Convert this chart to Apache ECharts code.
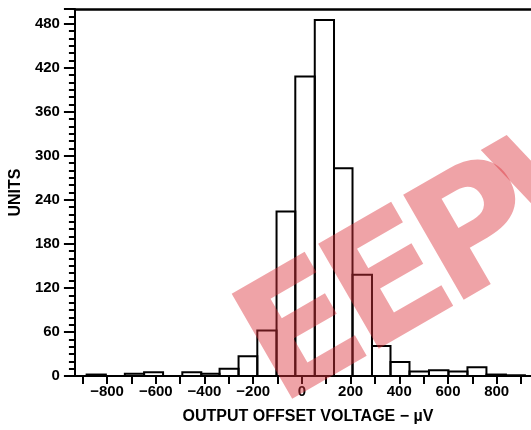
<!DOCTYPE html>
<html>
<head>
<meta charset="utf-8">
<script src="https://cdn.jsdelivr.net/npm/echarts@6/dist/echarts.min.js"></script>
<style>
html,body{margin:0;padding:0;background:#fff;}
#chart{width:531px;height:430px;}
</style>
</head>
<body>
<div id="chart"></div>
<script>
// Histogram bin edges (µV) and counts (units)
const binEdges = [-884, -805, -727, -648, -570, -491, -413, -338, -260, -183, -104, -27, 53, 132, 208, 288, 364, 442, 522, 602, 680, 758, 838, 916];
const counts   = [2, 0, 3, 5, 0, 5, 3, 10, 27, 62, 224, 408, 485, 283, 138, 41, 19, 6, 8, 6, 12, 2, 1];

// Axis ticks / labels
const xLabelValues = [-800, -600, -400, -200, 0, 200, 400, 600, 800];
const xTickValues = [-900, -800, -700, -600, -500, -400, -300, -200, -100, 0, 100, 200, 300, 400, 500, 600, 700, 800, 900];
const yLabelValues = [0, 60, 120, 180, 240, 300, 360, 420, 480];
const yMajorTickValues = [0, 60, 120, 180, 240, 300, 360, 420, 480, 500];
const yMinorTickValues = [];
for (let v = 0; v <= 500; v += 10) yMinorTickValues.push(v);

const xTitle = 'OUTPUT OFFSET VOLTAGE − µV';
const yTitle = 'UNITS';
const watermarkLetters = ['E', 'E', 'P', 'W'];

const histData = counts.map((c, i) => [binEdges[i], binEdges[i + 1], c]);

const FONT = '"Liberation Sans", Arial, Helvetica, sans-serif';
const fmt = v => (v < 0 ? '\u2212' + (-v) : String(v));

function renderItem(params, api) {
  const x0 = api.value(0), x1 = api.value(1), c = api.value(2);
  if (!c) return null;
  const p0 = api.coord([x0, c]);
  const p1 = api.coord([x1, 0]);
  return {
    type: 'rect',
    shape: { x: p0[0], y: p0[1], width: p1[0] - p0[0], height: p1[1] - p0[1] },
    style: { fill: 'transparent', stroke: '#000', lineWidth: 2 }
  };
}

const letterX = [-14, 86, 184, 284];
const WM_FONT = 'bold 166px "DejaVu Sans", "Liberation Sans", sans-serif';

const chart = echarts.init(document.getElementById('chart'), null, { renderer: 'canvas' });
chart.setOption({
  animation: false,
  backgroundColor: '#fff',
  grid: { left: 73, right: 0, top: 9, bottom: 53, containLabel: false },
  xAxis: [{
    type: 'value', min: -932, max: 941, position: 'bottom',
    axisLine: { show: true, onZero: false, lineStyle: { color: '#000', width: 2 } },
    axisTick: { show: true, customValues: xTickValues, length: 8, lineStyle: { color: '#000', width: 2 } },
    axisLabel: { customValues: xLabelValues, formatter: fmt, margin: 8, color: '#000', fontWeight: 'bold', fontSize: 15, fontFamily: FONT },
    splitLine: { show: false },
    name: xTitle, nameLocation: 'middle', nameGap: 33,
    nameTextStyle: { color: '#000', fontWeight: 'bold', fontSize: 16, fontFamily: FONT, padding: [0, 0, 0, 10] }
  }, {
    type: 'value', min: -932, max: 941, position: 'top',
    axisLine: { show: true, onZero: false, lineStyle: { color: '#000', width: 2.5 } },
    axisTick: { show: false }, axisLabel: { show: false }, splitLine: { show: false }
  }],
  yAxis: [{
    type: 'value', min: 0, max: 500, position: 'left',
    axisLine: { show: true, onZero: false, lineStyle: { color: '#000', width: 2 } },
    axisTick: { show: true, customValues: yMajorTickValues, length: 11, lineStyle: { color: '#000', width: 2 } },
    axisLabel: { customValues: yLabelValues, margin: 15, color: '#000', fontWeight: 'bold', fontSize: 15, fontFamily: FONT },
    splitLine: { show: false },
    name: yTitle, nameLocation: 'middle', nameGap: 48,
    nameTextStyle: { color: '#000', fontWeight: 'bold', fontSize: 16, fontFamily: FONT }
  }, {
    type: 'value', min: 0, max: 500, position: 'left', offset: 0,
    axisLine: { show: false, onZero: false },
    axisTick: { show: true, customValues: yMinorTickValues, length: 6, lineStyle: { color: '#000', width: 2 } },
    axisLabel: { show: false }, splitLine: { show: false }
  }],
  series: [{
    type: 'custom',
    renderItem: renderItem,
    xAxisIndex: 0, yAxisIndex: 0,
    encode: { x: [0, 1], y: 2 },
    data: histData,
    clip: true
  }],
  graphic: [{
    type: 'group', x: 239, y: 309, rotation: Math.PI / 6, z: 100, silent: true,
    children: watermarkLetters.map((ch, i) => ({
      type: 'text', x: letterX[i], y: 61, z: 100,
      style: { text: ch, font: WM_FONT, fill: 'rgba(220,50,60,0.45)',
               align: 'left', verticalAlign: 'middle' }
    }))
  }]
});
</script>
</body>
</html>
